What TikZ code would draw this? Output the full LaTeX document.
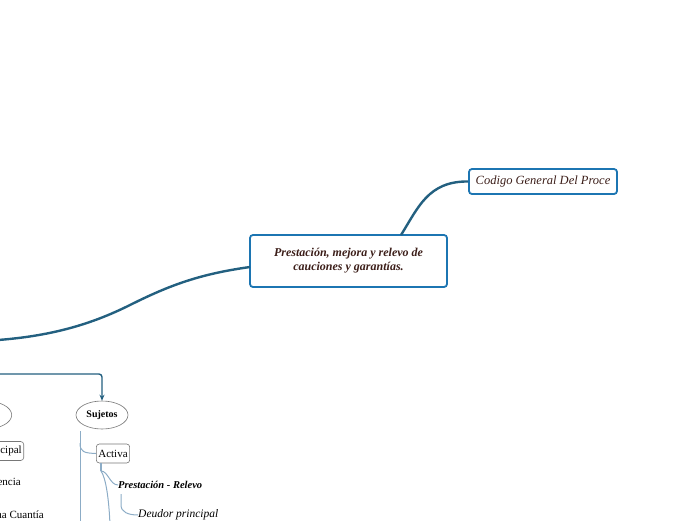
\documentclass[tikz,border=0pt]{standalone}
\usepackage{fontspec}
\setmainfont{Liberation Serif}
\usetikzlibrary{arrows.meta,shapes.geometric}
\definecolor{boxblue}{RGB}{28,117,178}
\definecolor{linkblue}{RGB}{35,96,128}
\definecolor{lightlink}{RGB}{140,172,198}
\definecolor{brownt}{RGB}{60,30,25}
\definecolor{grayline}{RGB}{120,120,120}
\begin{document}
\begin{tikzpicture}[x=1pt,y=-1pt,
  mainbox/.style={draw=boxblue,line width=1.8pt,rounded corners=3pt,fill=white,
    minimum width=197pt,minimum height=52pt,align=center,inner sep=2pt,
    font=\bfseries\itshape\fontsize{12}{14}\selectfont,text=brownt},
  topicbox/.style={draw=boxblue,line width=1.8pt,rounded corners=3pt,fill=white,
    minimum width=148pt,minimum height=25pt,inner sep=2pt,
    font=\itshape\fontsize{12.5}{14}\selectfont,text=brownt},
  link/.style={draw=linkblue,line width=2.4pt},
  sublink/.style={draw=linkblue,line width=1.4pt},
  thin/.style={draw=lightlink,line width=1pt},
  smallbox/.style={draw=grayline,line width=0.6pt,rounded corners=3pt,fill=white,
    minimum height=19pt,inner sep=2pt,font=\fontsize{11}{13}\selectfont},
  ovalnode/.style={ellipse,draw=grayline,line width=0.6pt,fill=white,
    minimum width=52pt,minimum height=28pt,inner sep=0pt,
    font=\bfseries\fontsize{10}{12}\selectfont},
  plaintext/.style={inner sep=0pt,font=\fontsize{11}{13}\selectfont}
]
\useasboundingbox (0,0) rectangle (696,520);
\begin{scope}
\clip (0,0) rectangle (696,520);

% main nodes
\node[mainbox] (main) at (348.5,261) {Prestación, mejora y relevo de\\cauciones y garantías.};
\node[topicbox] (codigo) at (543,181.5) {Codigo General Del Proce};

% connectors
\coordinate (mtop) at (401,235);
\draw[link] (mtop) .. controls (418,208) and (428,181) .. (codigo.west);
\coordinate (mleft) at (250,267);
\coordinate (leftend) at (-2,340);
\draw[link] (mleft) .. controls (200,274) and (170,285) .. (130,305)
  .. controls (90,325) and (50,336) .. (leftend);

% arrow to Sujetos
\node[ovalnode] (sujetos) at (102,415) {Sujetos};
\coordinate (hstart) at (-5,374);
\draw[sublink,-{Stealth[length=6pt,width=5pt]},rounded corners=3pt]
  (hstart) -- (102,374) -- (sujetos.north);

% left partially visible nodes
\node[ovalnode,anchor=east] (leftoval) at (12,415) {Objeto};
\node[smallbox,anchor=east] (principal) at (24,451) {Deudor principal};
\node[plaintext,anchor=east] (competencia) at (21,483) {Competencia};
\node[plaintext,anchor=east] (cuantia) at (44,515) {Mínima Cuantía};

% Sujetos subtree
\node[smallbox] (activa) at (113,453.5) {Activa};
\coordinate (vtop) at (80,431);
\coordinate (vbot) at (80,525);
\draw[thin] (vtop) -- (vbot);
\draw[thin] (80,443) .. controls (80,452) and (84,453) .. (activa.west);

\coordinate (abot) at (101,463);
\coordinate (abranch) at (101,471);
\draw[draw=lightlink,line width=1.8pt] (abot) -- (abranch);
\node[inner sep=0pt,anchor=west,font=\bfseries\itshape\fontsize{10.5}{12}\selectfont] (prest) at (118,485) {Prestación - Relevo};
\draw[thin] (abranch) .. controls (108,471) and (110,485) .. (prest.west);
\coordinate (abot2) at (110,525);
\draw[thin] (abranch) .. controls (106,478) and (109,500) .. (abot2);

\node[inner sep=0pt,anchor=west,font=\itshape\fontsize{11.5}{13}\selectfont] (deudor) at (138,515) {Deudor principal};
\coordinate (ptop) at (121,494);
\draw[thin] (ptop) -- (121,505) .. controls (121,512) and (128,515) .. (deudor.west);
\end{scope}
\end{tikzpicture}
\end{document}
